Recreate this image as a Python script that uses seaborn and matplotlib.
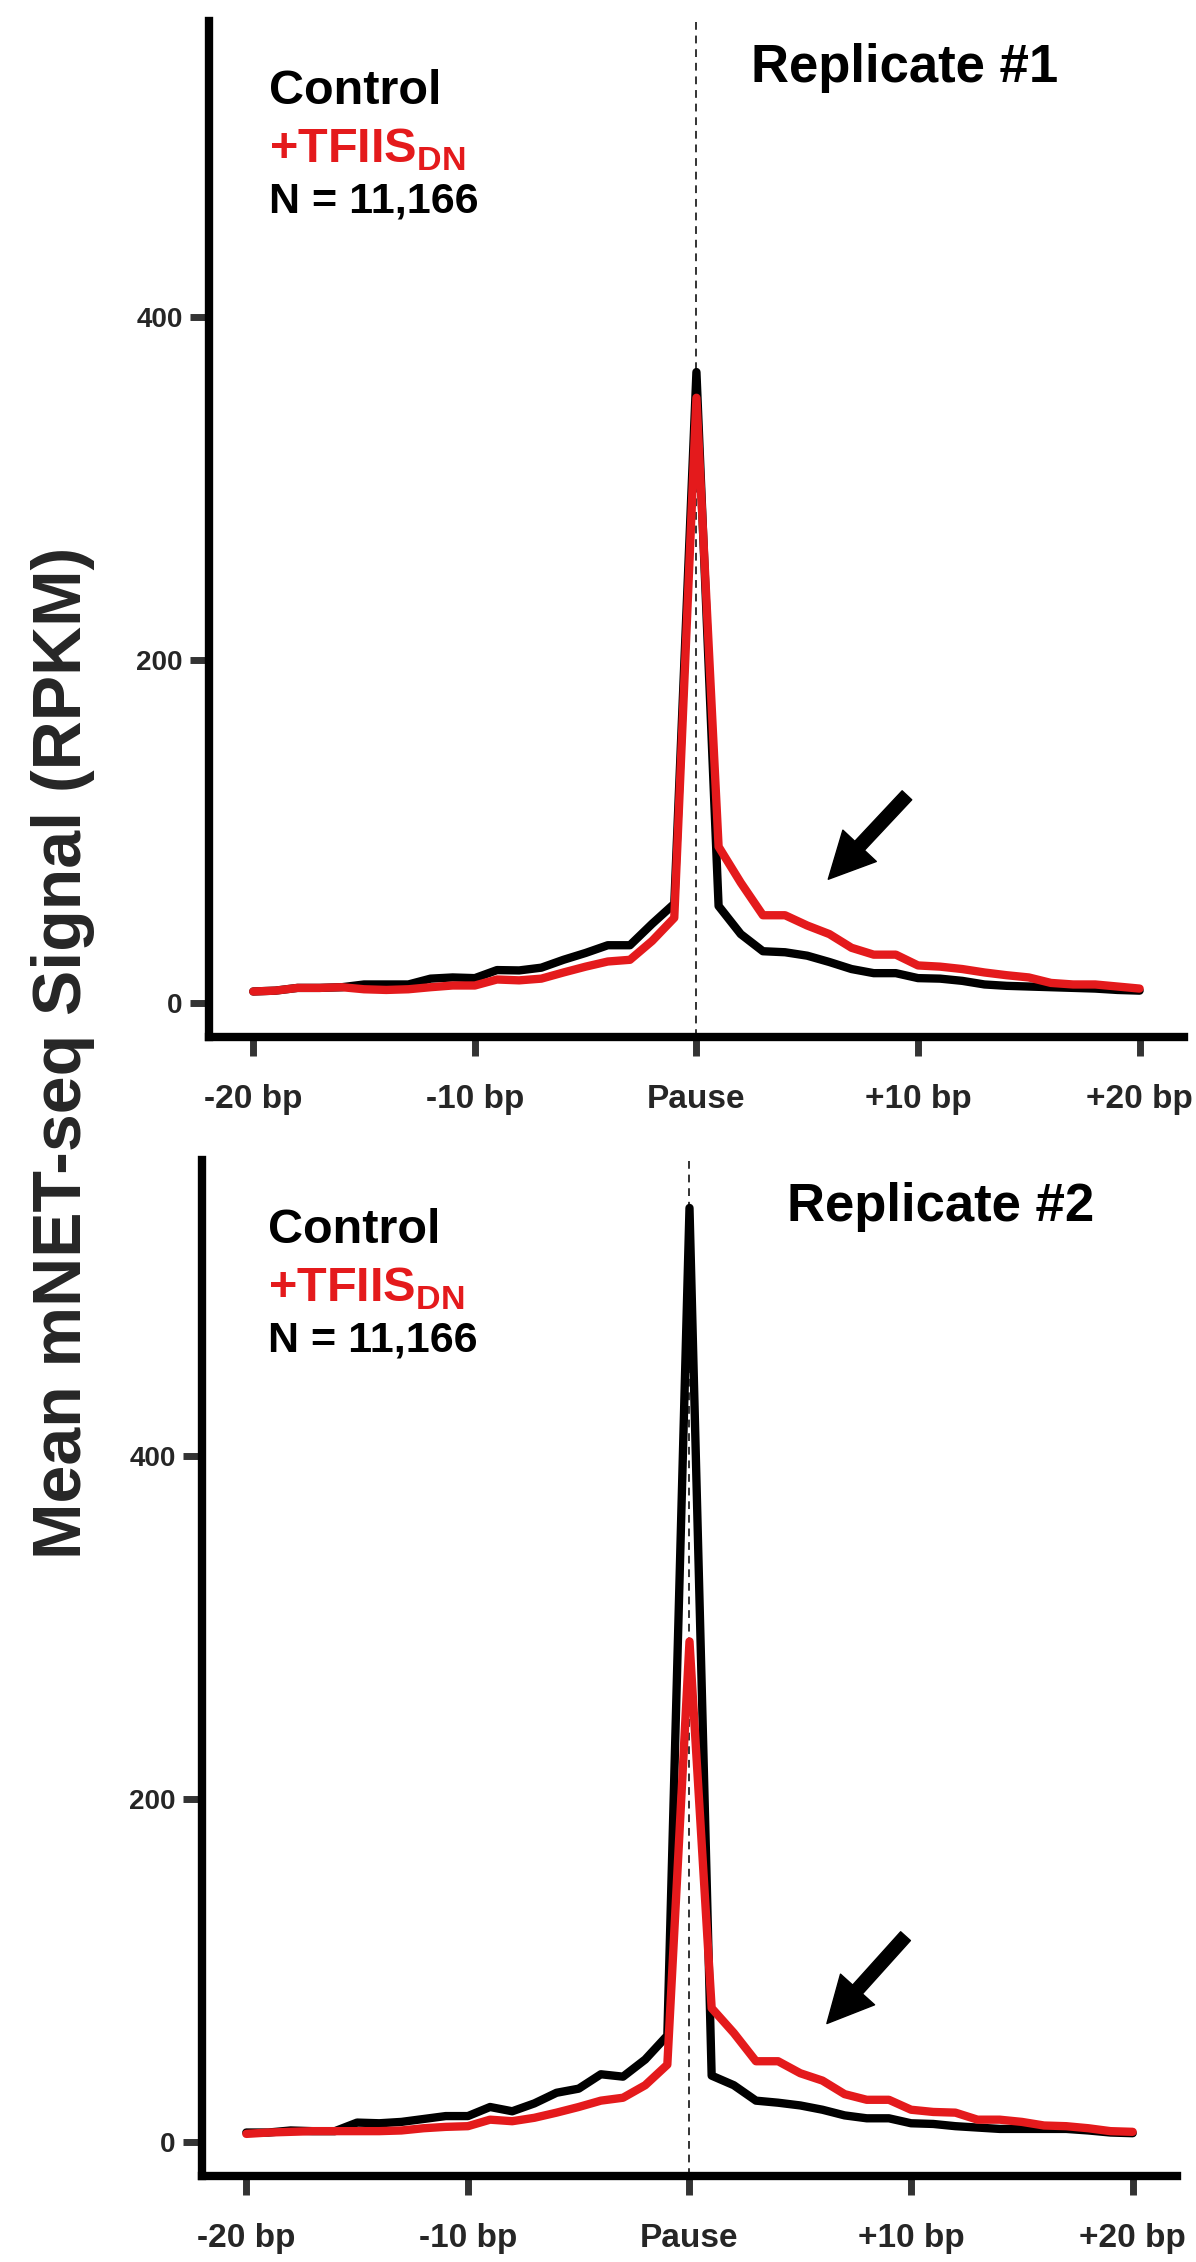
import matplotlib
matplotlib.use("Agg")
import matplotlib.pyplot as plt
import pandas as pd
import seaborn as sns

POSITIONS = list(range(-20, 21))

REP1_CONTROL = [6.5, 7, 8.6, 8.6, 9, 10.6, 10.6, 10.6, 14, 14.7, 14.3,
                19, 18.8, 20.4, 25, 29, 33.5, 33.5, 46, 57.7, 368,
                56.4, 40, 30, 29.4, 27.4, 23.7, 19.6, 17.2, 17.2, 14.3,
                14, 12.7, 10.6, 9.8, 9.4, 9, 8.6, 8.2, 7.4, 7]
REP1_TFIIS = [6.5, 7, 8.6, 8.6, 9, 7.8, 7.4, 7.8, 9, 10, 10,
              13.5, 13, 14, 17.6, 21, 24, 25, 36, 49.5, 353,
              91, 70, 51, 51, 45, 40, 32, 28, 28, 21.7,
              21, 19.6, 17.6, 16, 14.7, 11.5, 10.6, 10.6, 9.4, 8.2]

REP2_CONTROL = [5.4, 5.4, 6.6, 6.2, 6.2, 11.2, 10.8, 11.6, 13.3, 15, 15,
                20.3, 17.8, 22.4, 28.6, 31, 39.4, 38, 48, 62, 545,
                38.6, 33, 24, 22.8, 21.2, 18.7, 15.4, 13.7, 13.7, 10.8,
                10.4, 9.1, 8.3, 7.5, 7.5, 7.5, 7.5, 6.6, 5.4, 5]
REP2_TFIIS = [4.6, 5.4, 5.8, 6.2, 6.2, 6.2, 6.2, 6.6, 7.9, 8.7, 9.1,
              12.9, 12, 14, 17, 20.3, 24, 25.7, 33, 45, 292,
              78, 63.5, 47, 47, 40, 35.7, 27.8, 24.5, 24.5, 18.7,
              17.4, 17, 12.9, 12.9, 11.6, 9.5, 9.1, 7.9, 6.2, 5.8]

X_TICKS = [-20, -10, 0, 10, 20]
X_TICK_LABELS = ["-20 bp", "-10 bp", "Pause", "+10 bp", "+20 bp"]
Y_TICKS = [0, 200, 400]
TITLES = ["Replicate #1", "Replicate #2"]

RED = "#e41a1c"

sns.set_style("ticks")
plt.rcParams["font.family"] = ["Liberation Sans", "DejaVu Sans"]
plt.rcParams["font.weight"] = "bold"
plt.rcParams["mathtext.fontset"] = "custom"
plt.rcParams["mathtext.rm"] = "Liberation Sans"
plt.rcParams["mathtext.bf"] = "Liberation Sans:bold"

fig = plt.figure(figsize=(11.96, 22.62), dpi=100)
ax_top = fig.add_axes([0.1747, 0.5416, 0.8152, 0.4492])
ax_bot = fig.add_axes([0.1689, 0.0380, 0.8152, 0.4492])

panels = [
    (ax_top, REP1_CONTROL, REP1_TFIIS, TITLES[0], (0.062, 0.556), ((9.5, 121), (5.95, 72))),
    (ax_bot, REP2_CONTROL, REP2_TFIIS, TITLES[1], (0.068, 0.600), ((9.75, 120), (6.2, 69))),
]

for ax, ctrl, tfiis, title, (tx, rx), (tail, tip) in panels:
    df = pd.DataFrame({
        "pos": POSITIONS * 2,
        "signal": ctrl + tfiis,
        "cond": ["Control"] * len(ctrl) + ["TFIIS"] * len(tfiis),
    })
    ax.axvline(0, color="#333333", lw=1.4, ls=(0, (4, 3)), zorder=1)
    sns.lineplot(data=df, x="pos", y="signal", hue="cond",
                 palette={"Control": "black", "TFIIS": RED},
                 lw=6, ax=ax, legend=False, zorder=3)

    ax.set_xlim(-22, 22)
    ax.set_ylim(-20, 573)
    ax.set_xticks(X_TICKS)
    ax.set_xticklabels(X_TICK_LABELS, fontsize=24, fontweight="bold")
    ax.set_yticks(Y_TICKS)
    ax.set_yticklabels([str(v) for v in Y_TICKS], fontsize=20, fontweight="bold")
    ax.set_xlabel("")
    ax.set_ylabel("")
    ax.tick_params(axis="x", length=14, width=5, color="#333333", pad=20)
    ax.tick_params(axis="y", length=14, width=5, color="#333333", pad=5)
    sns.despine(ax=ax)
    for side in ["left", "bottom"]:
        ax.spines[side].set_linewidth(6)
        ax.spines[side].set_color("black")

    ax.text(tx, 0.918, "Control", transform=ax.transAxes, fontsize=35,
            fontweight="bold", color="black")
    ax.text(tx, 0.860, r"+TFIIS$_{\mathbf{DN}}$", transform=ax.transAxes,
            fontsize=35, fontweight="bold", color=RED)
    ax.text(tx, 0.811, "N = 11,166", transform=ax.transAxes, fontsize=31,
            fontweight="bold", color="black")
    ax.text(rx, 0.940, title, transform=ax.transAxes, fontsize=38,
            fontweight="bold", color="black")

    ax.annotate("", xy=tip, xytext=tail,
                arrowprops=dict(arrowstyle="simple,head_length=1.5,head_width=1.5,tail_width=0.43",
                                color="black", mutation_scale=22,
                                shrinkA=0, shrinkB=0))

fig.text(0.053, 0.5345, "Mean mNET-seq Signal (RPKM)", rotation=90,
         ha="center", va="center", fontsize=49, fontweight="bold")

fig.savefig("out.png", dpi=100)
